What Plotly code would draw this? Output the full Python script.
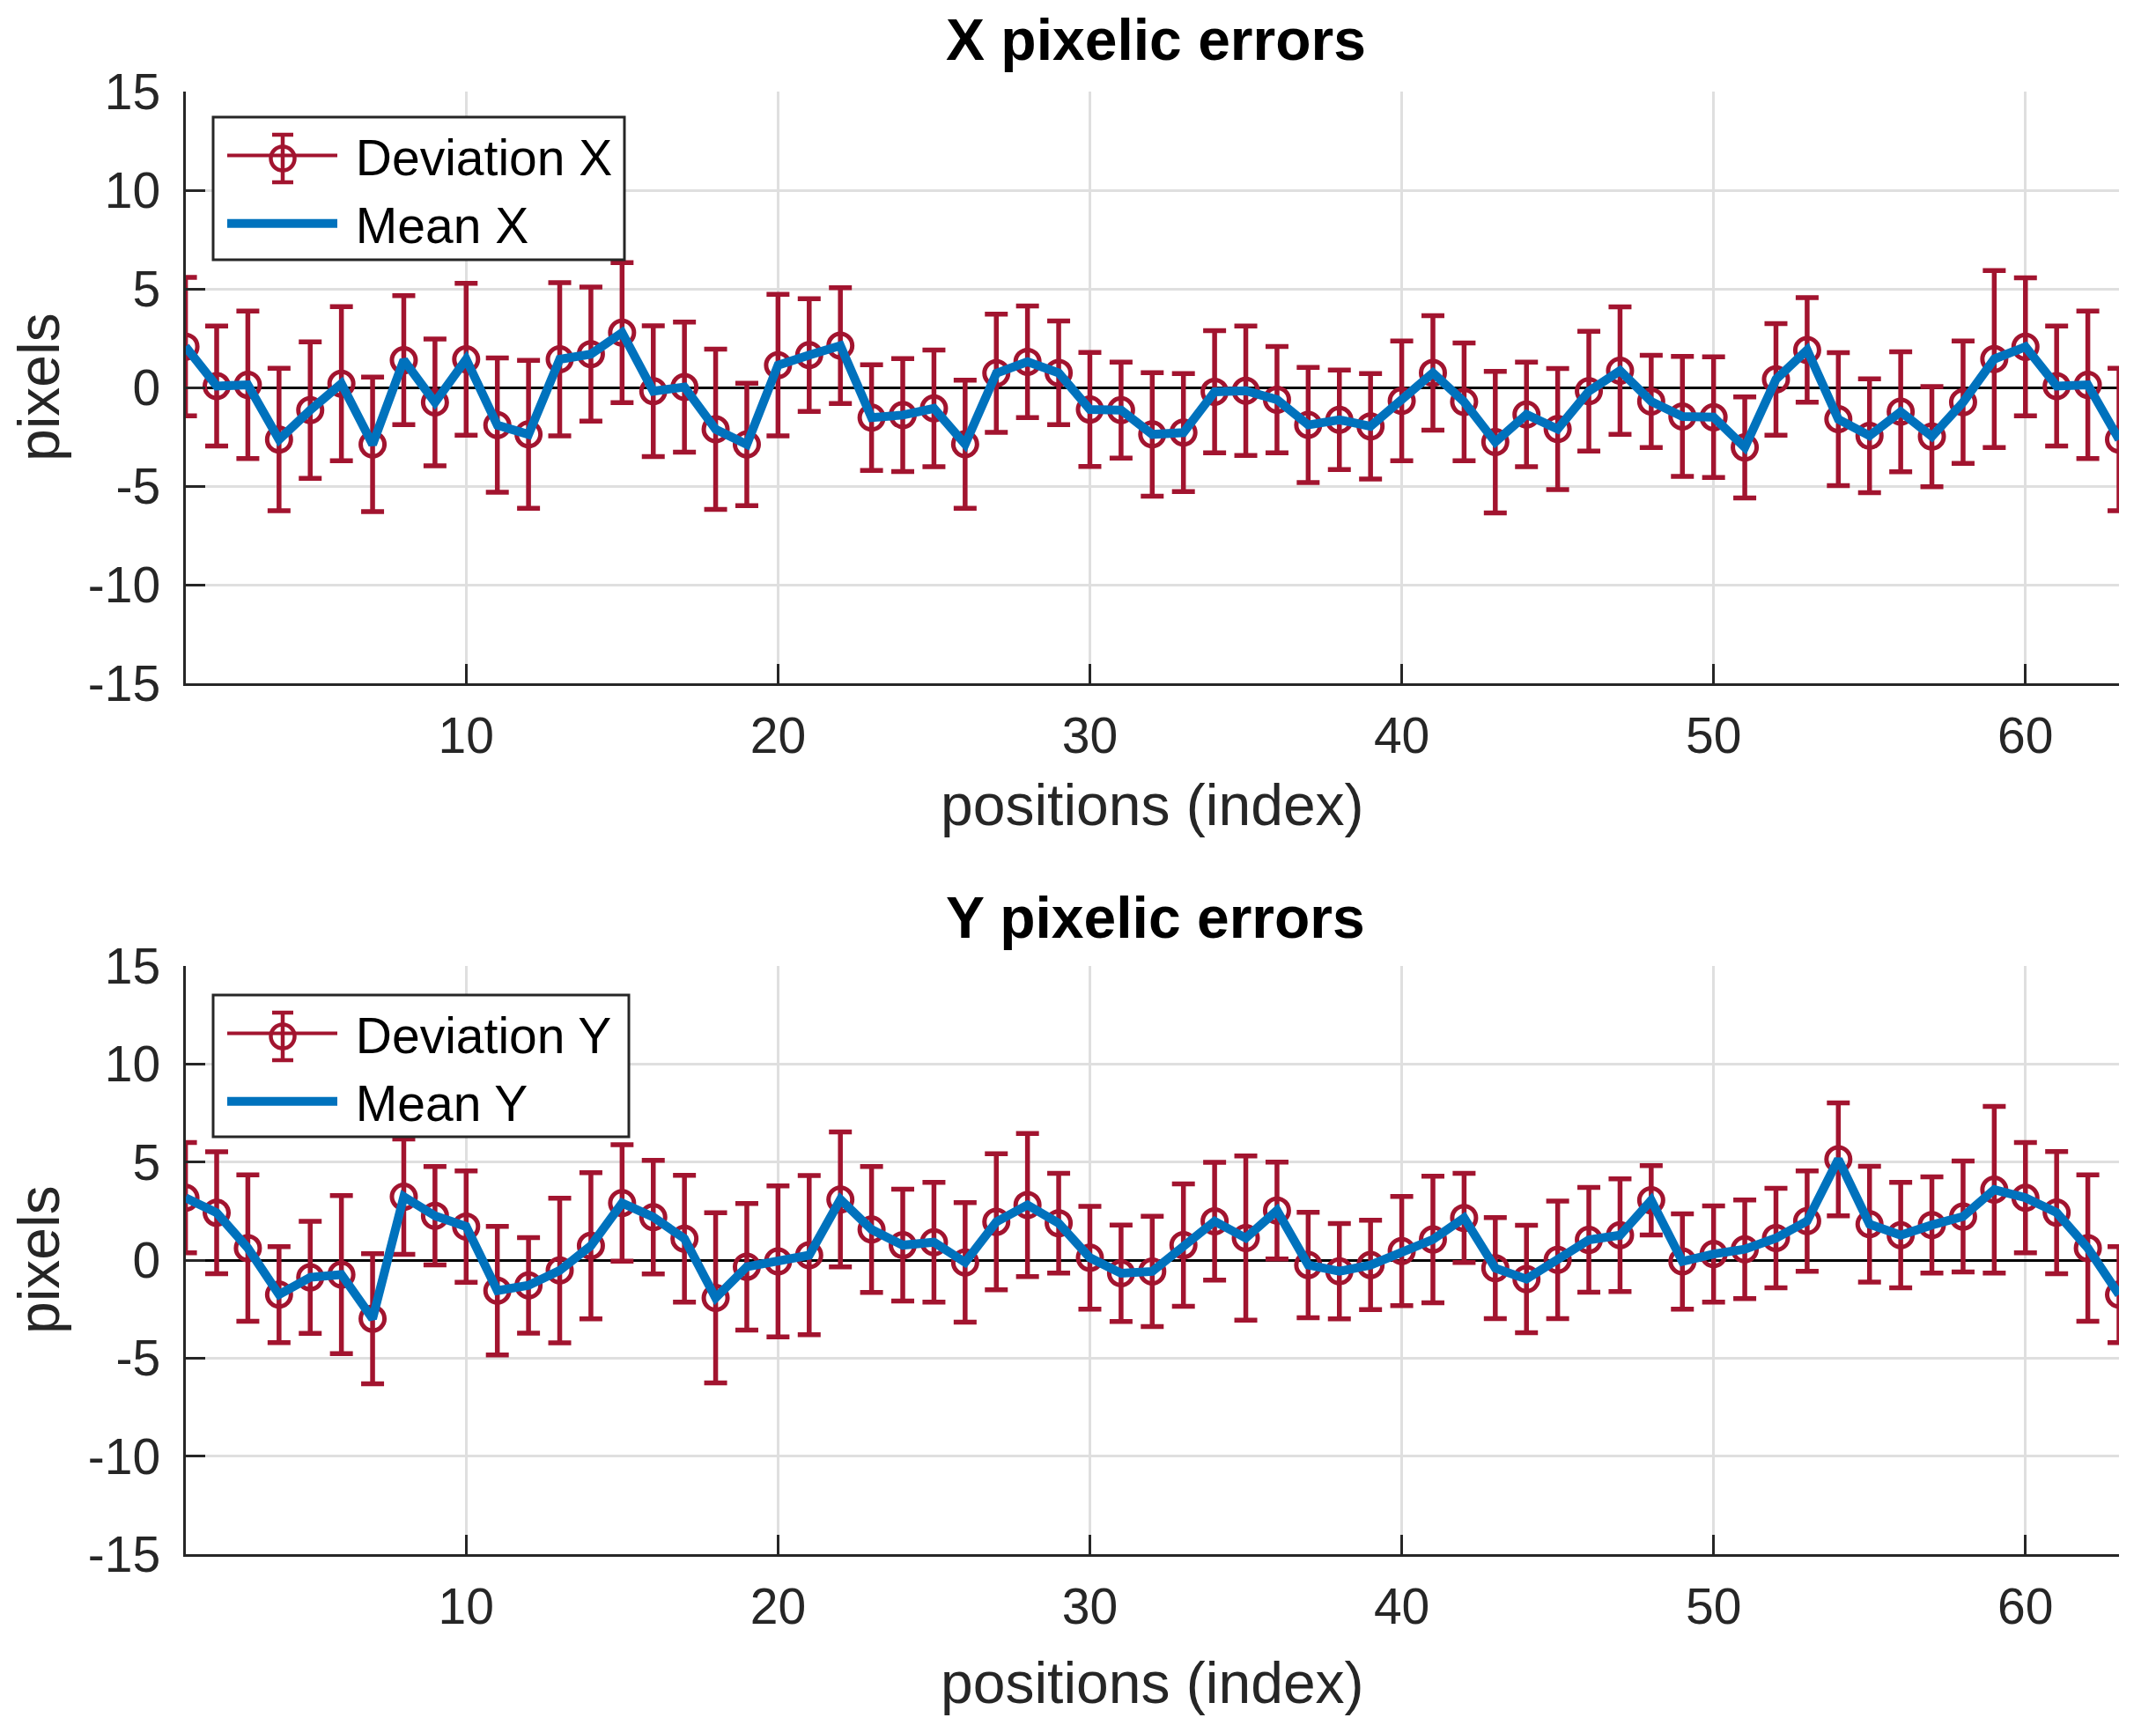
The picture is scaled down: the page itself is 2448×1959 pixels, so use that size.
import plotly.graph_objects as go

W, H = 2448, 1959

positions = list(range(1, 64))

mean_x = [2.07, 0.07, 0.13, -2.64, -1.15, 0.19, -2.89, 1.38, -0.76, 1.43,
          -1.91, -2.38, 1.43, 1.69, 2.78, -0.19, 0.02, -2.12, -2.89, 1.13,
          1.64, 2.12, -1.53, -1.40, -1.06, -2.88, 0.72, 1.30, 0.74, -1.12,
          -1.15, -2.38, -2.29, -0.22, -0.17, -0.62, -1.90, -1.64, -1.97, -0.68,
          0.74, -0.73, -2.77, -1.37, -2.11, -0.19, 0.85, -0.71, -1.47, -1.51,
          -3.04, 0.41, 1.90, -1.61, -2.45, -1.23, -2.49, -0.75, 1.44, 2.06,
          0.07, 0.13, -2.64]
std_x = [3.51, 3.04, 3.74, 3.61, 3.46, 3.91, 3.41, 3.27, 3.21, 3.85,
         3.40, 3.75, 3.88, 3.40, 3.55, 3.31, 3.30, 4.06, 3.10, 3.59,
         2.86, 2.94, 2.68, 2.86, 2.96, 3.25, 3.00, 2.83, 2.63, 2.89,
         2.43, 3.13, 2.99, 3.10, 3.28, 2.70, 2.92, 2.52, 2.67, 3.04,
         2.90, 2.99, 3.59, 2.65, 3.07, 3.04, 3.23, 2.34, 3.04, 3.06,
         2.56, 2.83, 2.65, 3.37, 2.88, 3.04, 2.54, 3.10, 4.49, 3.50,
         3.04, 3.74, 3.61]
mean_y = [3.18, 2.41, 0.61, -1.76, -0.88, -0.74, -2.99, 3.23, 2.26, 1.71,
          -1.56, -1.29, -0.53, 0.73, 2.91, 2.19, 1.09, -1.93, -0.34, -0.07,
          0.25, 3.09, 1.56, 0.76, 0.91, -0.12, 1.95, 2.81, 1.88, 0.12,
          -0.67, -0.58, 0.76, 1.98, 1.12, 2.53, -0.25, -0.57, -0.25, 0.46,
          1.05, 2.15, -0.41, -0.97, 0.01, 1.03, 1.27, 3.05, -0.07, 0.31,
          0.55, 1.12, 1.99, 5.14, 1.83, 1.27, 1.79, 2.22, 3.59, 3.18,
          2.42, 0.61, -1.76]
std_y = [2.81, 3.11, 3.73, 2.45, 2.86, 4.03, 3.32, 2.94, 2.51, 2.84,
         3.28, 2.44, 3.69, 3.73, 2.97, 2.90, 3.23, 4.34, 3.23, 3.85,
         4.06, 3.44, 3.21, 2.85, 3.05, 3.05, 3.47, 3.65, 2.54, 2.62,
         2.46, 2.81, 3.12, 3.00, 4.19, 2.47, 2.69, 2.43, 2.28, 2.78,
         3.23, 2.27, 2.58, 2.74, 3.00, 2.67, 2.87, 1.77, 2.43, 2.45,
         2.51, 2.54, 2.56, 2.88, 2.95, 2.69, 2.45, 2.83, 4.25, 2.81,
         3.12, 3.73, 2.45]

y_tick_vals = [-15, -10, -5, 0, 5, 10, 15]
y_tick_text = ["-15", "-10", "-5", "0", "5", "10", "15"]
x_tick_vals = [10, 20, 30, 40, 50, 60]
x_tick_text = ["10", "20", "30", "40", "50", "60"]

RED = "#A2142F"
BLUE = "#0072BD"
AX = "#262626"
FONT = "Liberation Sans, Arial, Helvetica, sans-serif"
TICK_SIZE = 57
LABEL_SIZE = 66
NB = "\u00a0"

fig = go.Figure()

panels = [
    ("x", "y", "legend", mean_x, std_x, "Deviation X", "Mean X"),
    ("x2", "y2", "legend2", mean_y, std_y, "Deviation Y", "Mean Y"),
]
for xa, ya, lg, m, s, dev_name, mean_name in panels:
    # data traces
    fig.add_trace(go.Scatter(
        x=positions, y=m, xaxis=xa, yaxis=ya, showlegend=False,
        mode="lines+markers", name=dev_name,
        line=dict(color=RED, width=4),
        marker=dict(symbol="circle-open", size=27, color=RED,
                    line=dict(width=5, color=RED)),
        error_y=dict(type="data", array=s, visible=True, color=RED,
                     thickness=5.5, width=13),
    ))
    fig.add_trace(go.Scatter(
        x=positions, y=m, xaxis=xa, yaxis=ya, showlegend=False,
        mode="lines", name=mean_name,
        line=dict(color=BLUE, width=10),
    ))
    # legend entries
    fig.add_trace(go.Scatter(
        x=[None], y=[None], xaxis=xa, yaxis=ya, legend=lg,
        mode="lines", name=NB + dev_name + NB,
        line=dict(color=RED, width=4),
    ))
    fig.add_trace(go.Scatter(
        x=[None], y=[None], xaxis=xa, yaxis=ya, legend=lg,
        mode="lines", name=NB + mean_name + NB,
        line=dict(color=BLUE, width=10),
    ))

xdom = [210.6 / W, 2406 / W]
top_dom = [1 - 776 / H, 1 - 104 / H]
bot_dom = [1 - 1765 / H, 1 - 1097 / H]

def xaxis_cfg(anchor):
    return dict(domain=xdom, range=[1, 63], anchor=anchor, automargin=False,
                tickmode="array", tickvals=x_tick_vals, ticktext=x_tick_text,
                showgrid=True, gridcolor="#DFDFDF", gridwidth=3,
                showline=True, linecolor=AX, linewidth=3, mirror=False,
                ticks="inside", ticklen=22, tickwidth=3, tickcolor=AX,
                zeroline=False, ticklabelstandoff=8,
                tickfont=dict(family=FONT, size=TICK_SIZE, color=AX))

def yaxis_cfg(dom, anchor):
    return dict(domain=dom, range=[-15, 15], anchor=anchor, automargin=False,
                tickmode="array", tickvals=y_tick_vals, ticktext=y_tick_text,
                showgrid=True, gridcolor="#DFDFDF", gridwidth=3,
                showline=True, linecolor=AX, linewidth=3, mirror=False,
                ticks="inside", ticklen=22, tickwidth=3, tickcolor=AX,
                zeroline=True, zerolinecolor="black", zerolinewidth=3,
                ticklabelstandoff=14,
                tickfont=dict(family=FONT, size=TICK_SIZE, color=AX))

legend_common = dict(
    xanchor="left", yanchor="top",
    bgcolor="rgba(0,0,0,0)", borderwidth=0,
    font=dict(family=FONT, size=TICK_SIZE, color="black"),
    itemwidth=125, tracegroupgap=0,
)

def px(xp, yp):
    return xp / W, 1 - yp / H

shapes = []
def legend_box(x0, y0, x1, y1, cx, cy):
    a, b = px(x0, y1)
    c, d = px(x1, y0)
    shapes.append(dict(type="rect", xref="paper", yref="paper",
                       x0=a, y0=b, x1=c, y1=d, layer="above",
                       fillcolor="white", line=dict(color=AX, width=3)))
    # error-bar glyph of the "Deviation" entry
    r, half, cap = 13.5, 27, 12
    for seg in [((cx, cy - half), (cx, cy + half)),
                ((cx - cap, cy - half), (cx + cap, cy - half)),
                ((cx - cap, cy + half), (cx + cap, cy + half))]:
        (xa_, ya_), (xb_, yb_) = seg
        p0, q0 = px(xa_, ya_)
        p1, q1 = px(xb_, yb_)
        shapes.append(dict(type="line", xref="paper", yref="paper",
                           x0=p0, y0=q0, x1=p1, y1=q1, layer="above",
                           line=dict(color=RED, width=4.5)))
    p0, q0 = px(cx - r, cy + r)
    p1, q1 = px(cx + r, cy - r)
    shapes.append(dict(type="circle", xref="paper", yref="paper",
                       x0=p0, y0=q0, x1=p1, y1=q1, layer="above",
                       fillcolor="rgba(0,0,0,0)", line=dict(color=RED, width=4.5)))

legend_box(242, 133, 709, 295, 321, 180)
legend_box(242, 1130, 714, 1291, 321, 1177)

annotations = []
def add_text(text, xpx, ypx, size, bold=False, angle=0, color=AX):
    annotations.append(dict(
        text=f"<b>{text}</b>" if bold else text,
        x=xpx / W, y=1 - ypx / H, xref="paper", yref="paper",
        xanchor="center", yanchor="middle", showarrow=False,
        textangle=angle,
        font=dict(family=FONT, size=size, color=color),
    ))

add_text("X pixelic errors", 1312, 45, LABEL_SIZE, bold=True, color="black")
add_text("positions (index)", 1308, 914, LABEL_SIZE)
add_text("pixels", 44, 440, LABEL_SIZE, angle=-90)
add_text("Y pixelic errors", 1312, 1042, LABEL_SIZE, bold=True, color="black")
add_text("positions (index)", 1308, 1911, LABEL_SIZE)
add_text("pixels", 44, 1431, LABEL_SIZE, angle=-90)

fig.update_layout(
    width=W, height=H, autosize=False,
    margin=dict(l=0, r=0, t=0, b=0, pad=0, autoexpand=False),
    paper_bgcolor="white", plot_bgcolor="white",
    font=dict(family=FONT, color=AX),
    xaxis=xaxis_cfg("y"),
    yaxis=yaxis_cfg(top_dom, "x"),
    xaxis2=xaxis_cfg("y2"),
    yaxis2=yaxis_cfg(bot_dom, "x2"),
    legend=dict(x=253 / W, y=1 - 133 / H, **legend_common),
    legend2=dict(x=253 / W, y=1 - 1130 / H, **legend_common),
    annotations=annotations,
    shapes=shapes,
    showlegend=True,
)

fig.write_html(
    "out.html",
    config={"displayModeBar": False},
    post_script="document.body.style.margin='0';document.body.style.padding='0';",
)
